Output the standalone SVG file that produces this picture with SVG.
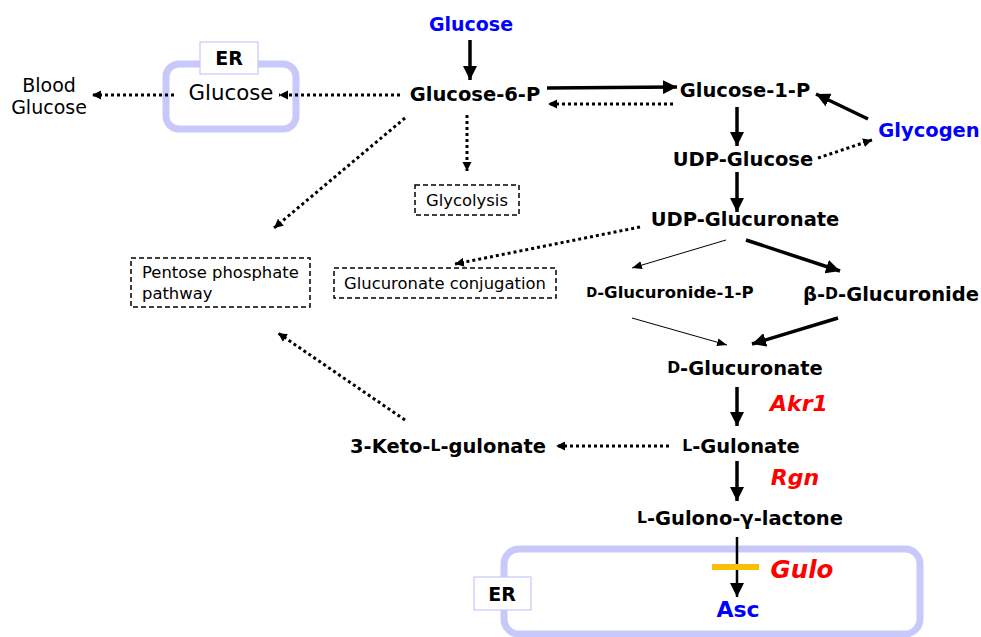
<svg xmlns="http://www.w3.org/2000/svg" width="981" height="637" viewBox="0 0 981 637">
<style>
text{font-family:"DejaVu Sans","Verdana",sans-serif;text-anchor:middle;dominant-baseline:central}
.b{font-weight:bold;font-size:19.5px;fill:#000}
.blue{fill:#0000ff}
.red{fill:#ff0000;font-style:italic;font-weight:bold}
.n{font-size:16.4px;fill:#000}
.sc{font-size:0.8em}
.er{fill:none;stroke:#c8c8fa;stroke-width:7}
.erl{fill:#fff;stroke:#c8c8fa;stroke-width:1.2}
.box{fill:#fff;stroke:#000;stroke-width:1.5;stroke-dasharray:5 3}
.thick{stroke:#000;stroke-width:3.5;fill:none;marker-end:url(#ah)}
.thin{stroke:#000;stroke-width:1;fill:none;marker-end:url(#at)}
.dot{stroke:#000;stroke-width:3;stroke-dasharray:3 3;fill:none;marker-end:url(#ad)}
</style>
<defs>
<marker id="ah" markerUnits="userSpaceOnUse" markerWidth="16" markerHeight="14" refX="14" refY="7" orient="auto"><path d="M0,0 L14,7 L0,14 Z" fill="#000"/></marker>
<marker id="at" markerUnits="userSpaceOnUse" markerWidth="12" markerHeight="10" refX="10" refY="4" orient="auto"><path d="M0,0 L10,4 L0,8 Z" fill="#000"/></marker>
<marker id="ad" markerUnits="userSpaceOnUse" markerWidth="12" markerHeight="10" refX="9" refY="4.5" orient="auto"><path d="M0,0 L9,4.5 L0,9 Z" fill="#000"/></marker>
</defs>
<g id="er-top">
<rect class="er" x="166" y="64" width="130" height="65" rx="13"/>
<rect class="erl" x="200" y="42" width="58" height="32"/>
<text class="b" x="229" y="58" style="font-size:19px">ER</text>
</g>
<g id="er-bottom">
<rect class="er" x="504" y="549" width="416" height="85" rx="15"/>
<rect class="erl" x="474" y="577" width="57" height="33"/>
<text class="b" x="502" y="594" style="font-size:19px">ER</text>
</g>
<g id="connectors">
<line class="dot" x1="400" y1="95" x2="279" y2="95"/>
<line class="dot" x1="174" y1="95" x2="92" y2="95"/>
<line class="thick" x1="470" y1="40" x2="470" y2="80"/>
<line class="thick" x1="547" y1="88" x2="677" y2="87"/>
<line class="dot" x1="673" y1="104" x2="548" y2="104"/>
<line class="thick" x1="868" y1="119" x2="816" y2="94"/>
<line class="thick" x1="737" y1="107" x2="737" y2="146"/>
<line class="dot" x1="818" y1="158" x2="872" y2="140"/>
<line class="thick" x1="737" y1="172" x2="737" y2="212"/>
<line class="dot" x1="467" y1="115" x2="467" y2="171"/>
<line class="dot" x1="405" y1="118" x2="274" y2="228"/>
<line class="dot" x1="640" y1="227" x2="455" y2="264"/>
<line class="thin" x1="726" y1="240" x2="632" y2="268"/>
<line class="thick" x1="746" y1="240" x2="840" y2="271"/>
<line class="thin" x1="632" y1="318" x2="727" y2="345"/>
<line class="thick" x1="838" y1="318" x2="752" y2="344"/>
<line class="thick" x1="737" y1="387" x2="737" y2="426"/>
<line class="dot" x1="669" y1="446" x2="556" y2="446"/>
<line class="dot" x1="405" y1="420" x2="278" y2="333"/>
<line class="thick" x1="737" y1="461" x2="737" y2="501"/>
<line class="thick" x1="737" y1="537" x2="737" y2="597" style="stroke-width:2.5"/>
<line x1="712" y1="567" x2="759" y2="567" stroke="#f8c000" stroke-width="6"/>
</g>
<g id="blood-glucose"><text x="49" y="85" style="font-size:19px">Blood</text><text x="49" y="107" style="font-size:19px">Glucose</text></g>
<g id="er-glucose"><text x="231" y="92" style="font-size:21.3px">Glucose</text></g>
<g id="glucose"><text class="b blue" x="471" y="24" style="font-size:19px">Glucose</text></g>
<g id="glucose-6-p"><text class="b" x="475" y="94">Glucose-6-P</text></g>
<g id="glucose-1-p"><text class="b" x="745" y="90">Glucose-1-P</text></g>
<g id="glycogen"><text class="b blue" x="929" y="130">Glycogen</text></g>
<g id="udp-glucose"><text class="b" x="743" y="159">UDP-Glucose</text></g>
<g id="udp-glucuronate"><text class="b" x="745" y="219">UDP-Glucuronate</text></g>
<g id="glycolysis"><rect class="box" x="415" y="185" width="104" height="30"/><text class="n" x="467" y="200">Glycolysis</text></g>
<g id="pentose"><rect class="box" x="131" y="258" width="179" height="49"/><text class="n" x="142" y="272" style="text-anchor:start">Pentose phosphate</text><text class="n" x="142" y="293" style="text-anchor:start">pathway</text></g>
<g id="glucuronate-conjugation"><rect class="box" x="334" y="268" width="222" height="30"/><text class="n" x="445" y="283">Glucuronate conjugation</text></g>
<g id="d-glucuronide-1-p"><text class="b" x="670" y="292" style="font-size:16.5px"><tspan class="sc">D</tspan>-Glucuronide-1-P</text></g>
<g id="b-d-glucuronide"><text class="b" x="891" y="294">β-<tspan class="sc">D</tspan>-Glucuronide</text></g>
<g id="d-glucuronate"><text class="b" x="745" y="368"><tspan class="sc">D</tspan>-Glucuronate</text></g>
<g id="akr1"><text class="red" x="799" y="403" style="font-size:22px">Akr1</text></g>
<g id="l-gulonate"><text class="b" x="741" y="446"><tspan class="sc">L</tspan>-Gulonate</text></g>
<g id="keto"><text class="b" x="448" y="446">3-Keto-<tspan class="sc">L</tspan>-gulonate</text></g>
<g id="rgn"><text class="red" x="795" y="477" style="font-size:22px">Rgn</text></g>
<g id="l-gulono"><text class="b" x="740" y="518"><tspan class="sc">L</tspan>-Gulono-γ-lactone</text></g>
<g id="gulo"><text class="red" x="802" y="569" style="font-size:24.5px">Gulo</text></g>
<g id="asc"><text class="b blue" x="738" y="609" style="font-size:22px">Asc</text></g>
</svg>
